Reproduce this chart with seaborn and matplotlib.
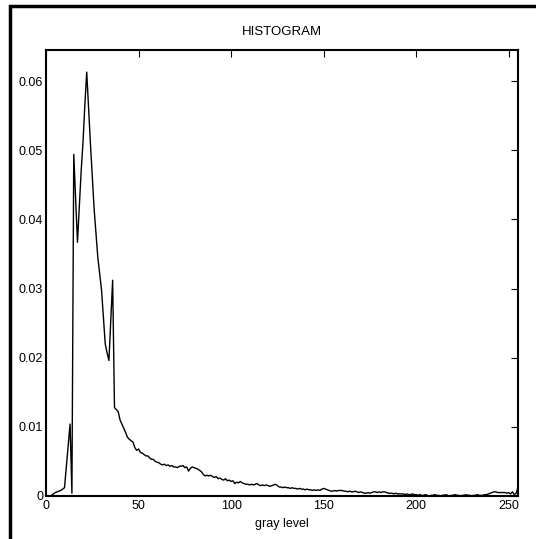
#!/usr/bin/env python3

import numpy as np
import pandas as pd
import seaborn as sns
import matplotlib.pyplot as plt
from matplotlib.patches import Rectangle

# normalised histogram of an 8-bit image, one value per gray level
hist_low = [  # levels 0-49
    0, 0, 0, 0.0001, 0.0003, 0.0005, 0.0006, 0.0007, 0.0008, 0.0010,
    0.0012, 0.0043, 0.0074, 0.0104, 0.0004, 0.0494, 0.0430, 0.0367, 0.0418, 0.0470,
    0.0512, 0.0566, 0.0613, 0.0560, 0.0510, 0.0462, 0.0415, 0.0380, 0.0345, 0.0322,
    0.0298, 0.0258, 0.0220, 0.0207, 0.0196, 0.0255, 0.0312, 0.0128, 0.0125, 0.0122,
    0.0110, 0.0104, 0.0098, 0.0092, 0.0085, 0.0082, 0.0080, 0.0078, 0.0070, 0.0066,
]
hist_mid = [  # levels 50-149
    0.0068, 0.0063, 0.0062, 0.0060, 0.0058, 0.0058, 0.0055, 0.0053, 0.0053, 0.0050,
    0.0049, 0.0048, 0.0046, 0.0045, 0.0046, 0.0044, 0.0045, 0.0043, 0.0044, 0.0042,
    0.0042, 0.0041, 0.0043, 0.0043, 0.0044, 0.0041, 0.0042, 0.0036, 0.0040, 0.0042,
    0.0041, 0.0040, 0.0039, 0.0037, 0.0035, 0.0031, 0.0029, 0.0030, 0.0029, 0.0030,
    0.0028, 0.0027, 0.0028, 0.0025, 0.0026, 0.0024, 0.0023, 0.0025, 0.0022, 0.0023,
    0.0021, 0.0022, 0.0018, 0.0020, 0.0019, 0.0021, 0.0019, 0.0018, 0.0017, 0.0017,
    0.0016, 0.0017, 0.0016, 0.0017, 0.0018, 0.0016, 0.0015, 0.0016, 0.0015, 0.0016,
    0.0015, 0.0014, 0.0015, 0.0016, 0.0017, 0.0015, 0.0013, 0.0013, 0.0012, 0.0013,
    0.0012, 0.0012, 0.0011, 0.0012, 0.0011, 0.0011, 0.0010, 0.0011, 0.0010, 0.0010,
    0.0009, 0.0010, 0.0009, 0.0009, 0.0008, 0.0009, 0.0008, 0.0009, 0.0008, 0.0010,
]
hist_high = [  # levels 150-255
    0.0011, 0.0010, 0.0009, 0.0008, 0.0007, 0.0007, 0.0008, 0.0007, 0.0008, 0.0008,
    0.0008, 0.0007, 0.0007, 0.0006, 0.0007, 0.0006, 0.0006, 0.0007, 0.0006, 0.0005,
    0.0006, 0.0005, 0.0004, 0.0004, 0.0005, 0.0004, 0.0005, 0.0006, 0.0006, 0.0005,
    0.0006, 0.0005, 0.0006, 0.0006, 0.0005, 0.0004, 0.0004, 0.0004, 0.0003, 0.0004,
    0.0003, 0.0003, 0.0003, 0.0003, 0.0002, 0.0003, 0.0002, 0.0002, 0.0003, 0.0002,
    0.0002, 0.0001, 0.0002, 0.0001, 0.0001, 0.0002, 0.0001, 0.0000, 0.0001, 0.0001,
    0.0002, 0.0001, 0.0001, 0.0000, 0.0001, 0.0001, 0.0002, 0.0001, 0.0000, 0.0001,
    0.0001, 0.0002, 0.0001, 0.0001, 0.0000, 0.0001, 0.0001, 0.0002, 0.0001, 0.0001,
    0.0000, 0.0001, 0.0001, 0.0002, 0.0001, 0.0001, 0.0001, 0.0002, 0.0002, 0.0003,
    0.0004, 0.0005, 0.0006, 0.0006, 0.0005, 0.0005, 0.0005, 0.0005, 0.0005, 0.0004,
    0.0005, 0.0003, 0.0006, 0.0002, 0.0004, 0.0013,
]
x_ticks = [0, 50, 100, 150, 200, 250]
y_ticks = [0, 0.01, 0.02, 0.03, 0.04, 0.05, 0.06]
y_labels = ["0", "0.01", "0.02", "0.03", "0.04", "0.05", "0.06"]

data = pd.DataFrame({
    "gray": np.arange(256),
    "p": hist_low + hist_mid + hist_high,
})

sns.set_theme(style="white")
plt.rcParams["font.family"] = ["Liberation Sans", "DejaVu Sans"]

fig = plt.figure(figsize=(5.36, 5.39), dpi=100)
ax = fig.add_axes([46 / 536, 43 / 539, 472 / 536, 446 / 539])

sns.lineplot(data=data, x="gray", y="p", color="black", linewidth=1.0, ax=ax)

ax.set_xlim(0, 255)
ax.set_ylim(0, 0.0645)
ax.set_xticks(x_ticks)
ax.set_yticks(y_ticks)
ax.set_yticklabels(y_labels)
ax.tick_params(direction="in", length=5, width=0.8, colors="black",
               labelsize=9, top=True, right=True)
ax.tick_params(axis="x", pad=3)
ax.tick_params(axis="y", pad=2)
for sp in ax.spines.values():
    sp.set_color("black")
    sp.set_linewidth(1.5)
    sp.set_visible(True)

ax.set_title("HISTOGRAM", fontsize=9.5, color="black", pad=11)
ax.set_xlabel("gray level", fontsize=9, color="black", labelpad=4)
ax.set_ylabel("")

# figure frame, only left and top edges show in the crop
fig.patches.append(Rectangle((10 / 536, -0.1), 1.2, 1.1 - 6 / 539,
                             transform=fig.transFigure, fill=False,
                             edgecolor="black", linewidth=2.5, clip_on=False))

fig.savefig("out.png", dpi=100)
plt.close()
